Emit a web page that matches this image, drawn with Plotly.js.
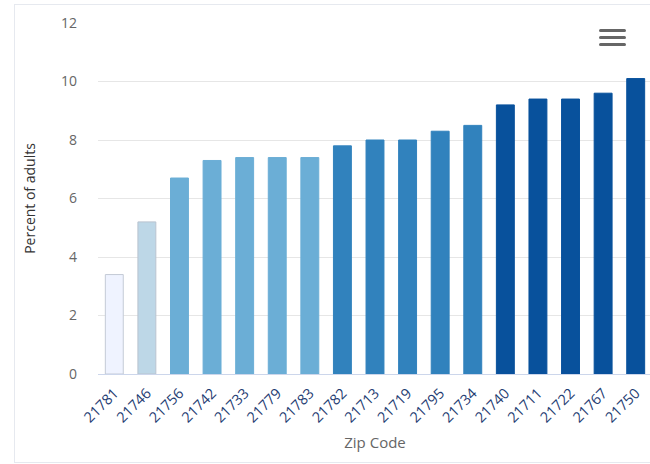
<!DOCTYPE html>
<html><head><meta charset="utf-8">
<script src="https://cdn.plot.ly/plotly-3.0.1.min.js"></script>
<style>
html,body{margin:0;padding:0;overflow:hidden;width:650px;height:464px;background:#fff;}
#frame{position:absolute;left:14px;top:4px;width:700px;height:457px;border:1px solid #e6e9ef;border-right:none;}
#chart{position:absolute;left:0;top:0;}
.bar{position:absolute;left:599px;width:27px;height:3px;background:#666;border-radius:2px;}
</style></head>
<body>
<div id="frame"></div>
<div id="chart"></div>
<div class="bar" style="top:29px"></div>
<div class="bar" style="top:36px"></div>
<div class="bar" style="top:43px"></div>
<script>
const zipCodes = ["21781","21746","21756","21742","21733","21779","21783","21782","21713","21719","21795","21734","21740","21711","21722","21767","21750"];
const percentAdults = [3.4,5.2,6.7,7.3,7.4,7.4,7.4,7.8,8.0,8.0,8.3,8.5,9.2,9.4,9.4,9.6,10.1];
const barColors = ["#eff3ff","#bdd7e7","#6baed6","#6baed6","#6baed6","#6baed6","#6baed6","#3182bd","#3182bd","#3182bd","#3182bd","#3182bd","#08519c","#08519c","#08519c","#08519c","#08519c"];
const lineColors = ["#c4cad6","#b9c3cf","#6baed6","#6baed6","#6baed6","#6baed6","#6baed6","#3182bd","#3182bd","#3182bd","#3182bd","#3182bd","#08519c","#08519c","#08519c","#08519c","#08519c"];
const yTicks = [0,2,4,6,8,10,12];

const font = "'Open Sans', 'DejaVu Sans', sans-serif";
Plotly.newPlot('chart', [{
  type:'bar', x:zipCodes, y:percentAdults,
  marker:{color:barColors, line:{color:lineColors, width:1}},
  hoverinfo:'x+y'
}], {
  width:660, height:464,
  margin:{l:98, r:8, t:23, b:90},
  paper_bgcolor:'rgba(0,0,0,0)', plot_bgcolor:'rgba(0,0,0,0)',
  bargap:0.45,
  showlegend:false,
  xaxis:{type:'category', tickangle:-45, tickfont:{family:font, size:14.5, color:'#1f3d73'},
    showline:true, linecolor:'#ccd6eb', linewidth:1, ticks:'', showgrid:false, ticklabelstandoff:4,
    title:{text:'Zip Code', font:{family:font, size:15, color:'#666'}, standoff:12}},
  yaxis:{range:[0,12], tickvals:yTicks, tickfont:{family:font, size:14, color:'#666'},
    gridcolor:'#e6e6e6', zeroline:false, showline:false, ticklabelstandoff:20,
    title:{text:'Percent of adults', font:{family:font, size:14, color:'#333'}, standoff:22}}
}, {displayModeBar:false, staticPlot:true});
</script>
</body></html>
